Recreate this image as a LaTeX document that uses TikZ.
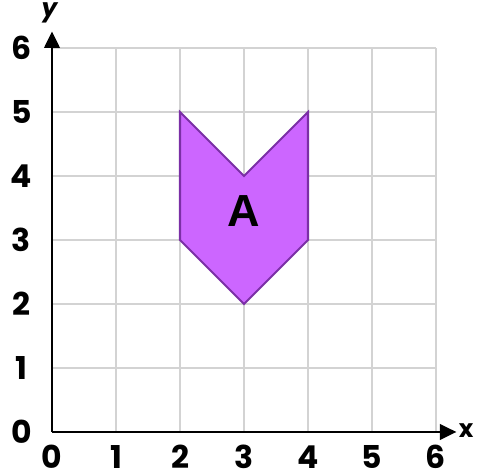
\documentclass[tikz,border=0pt]{standalone}
\usepackage{fontspec}
\setmainfont{Poppins}
\newfontfamily\arialfont{Liberation Sans}
\usetikzlibrary{arrows.meta}
\definecolor{gridgray}{HTML}{D3D3D3}
\definecolor{shapefill}{HTML}{CC66FF}
\definecolor{shapeedge}{HTML}{7B2FA6}
\tikzset{
  gridline/.style={draw=gridgray, line width=0.9pt},
  axisline/.style={draw=black, line width=1.3pt, -{Triangle[length=0.26cm,width=0.24cm]}},
  ticklabel/.style={font=\fontsize{14}{16}\selectfont\bfseries, text=black, inner sep=0pt},
  axislabel/.style={font=\fontsize{11}{13}\selectfont\bfseries, text=black, inner sep=0pt},
  shapeA/.style={fill=shapefill, draw=shapeedge, line width=0.9pt, line join=miter},
}
\begin{document}
\begin{tikzpicture}[x=1cm,y=1cm]
\useasboundingbox (-0.8125,-0.609) rectangle (6.672,6.75);
% grid
\foreach \i in {1,...,6} {
  \draw[gridline] (\i,0) -- (\i,6);
  \draw[gridline] (0,\i) -- (6,\i);
}
% shape A
\draw[shapeA] (2,5) -- (3,4) -- (4,5) -- (4,3) -- (3,2) -- (2,3) -- cycle;
\node[font=\arialfont\fontsize{20}{24}\selectfont\bfseries, inner sep=0pt] (lblA) at (3,3.45) {A};
% axes
\coordinate (O) at (0,0);
\coordinate (xend) at (6.32,0);
\coordinate (yend) at (0,6.26);
\draw[axisline] (O) -- (xend);
\draw[axisline] (O) -- (yend);
\node[axislabel] (xlab) at (6.47,0.02) {x};
\node[axislabel, font=\fontsize{11}{13}\selectfont\bfseries\itshape] (ylab) at (-0.04,6.55) {y};
% tick labels
\foreach \i in {0,...,6} {
  \node[ticklabel] (xt\i) at (\i,-0.39) {\i};
  \node[ticklabel] (yt\i) at (-0.48,\i) {\i};
}
\end{tikzpicture}
\end{document}
